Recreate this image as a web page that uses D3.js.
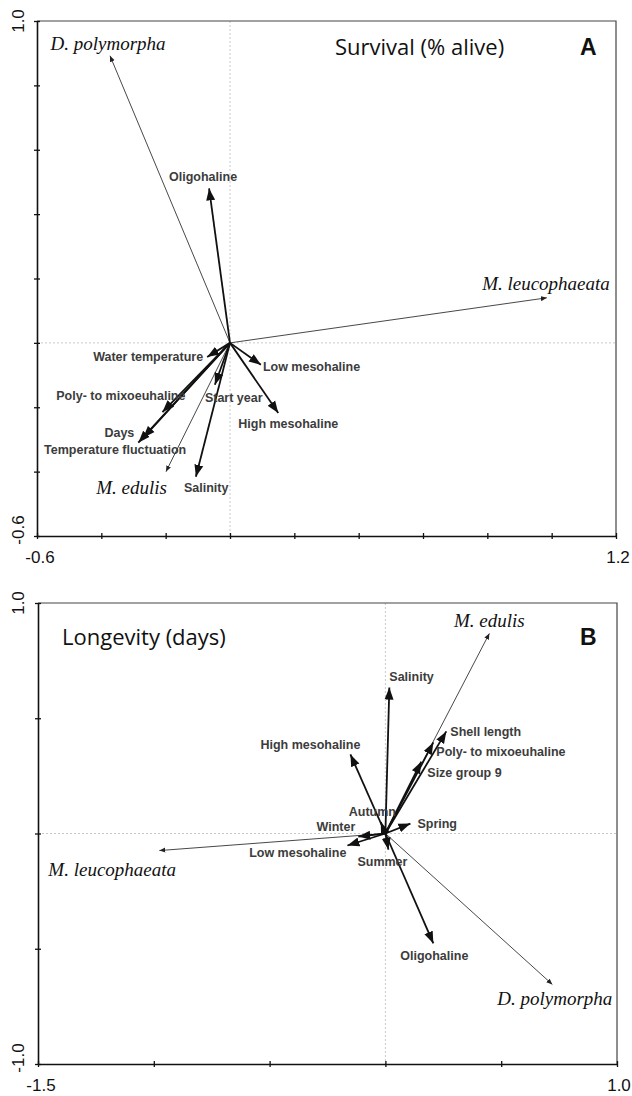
<!DOCTYPE html>
<html>
  <head>
    <style>
     body{ margin:0; background:#fff; }
     .env{ font-family:"Liberation Sans", Arial, sans-serif; font-weight:bold; font-size:12.5px; fill:#3c3c3c; }
     .sp{ font-family:"Liberation Serif", "Times New Roman", serif; font-style:italic; font-size:19px; fill:#111; }
     .ttl{ font-family:"Open Sans", Lato, sans-serif; font-size:22px; fill:#111; }
     .pnl{ font-family:"Liberation Sans", Arial, sans-serif; font-weight:bold; font-size:23px; fill:#111; }
     .tk{ font-family:"Liberation Sans", Arial, sans-serif; font-size:17px; fill:#111; }
    </style>
    <script src="https://d3js.org/d3.v7.min.js"></script>
    <title>Survival and longevity ordination</title>
  </head>
  <body>
    <script>
    // ---- Panel A: Survival (% alive) ----
    const aSpecies = ["D. polymorpha", "M. leucophaeata", "M. edulis"];
    const aSpeciesX = [-0.373, 0.985, -0.199];
    const aSpeciesY = [0.892, 0.140, -0.400];
    const aVars = ["Oligohaline", "Water temperature", "Low mesohaline", "High mesohaline",
                   "Start year", "Poly- to mixoeuhaline", "Days", "Temperature fluctuation", "Salinity"];
    const aVarsX = [-0.065, -0.071, 0.096, 0.150, -0.047, -0.210, -0.285, -0.270, -0.106];
    const aVarsY = [0.480, -0.044, -0.068, -0.218, -0.130, -0.215, -0.310, -0.295, -0.416];
    const aXDomain = [-0.6, 1.2], aYDomain = [-0.6, 1.0];
    const aXLabels = ["-0.6", "1.2"], aYLabels = ["-0.6", "1.0"];

    // ---- Panel B: Longevity (days) ----
    const bSpecies = ["M. edulis", "D. polymorpha", "M. leucophaeata"];
    const bSpeciesX = [0.449, 0.721, -0.976];
    const bSpeciesY = [0.868, -0.655, -0.074];
    const bVars = ["Salinity", "High mesohaline", "Shell length", "Poly- to mixoeuhaline", "Size group 9",
                   "Spring", "Autumn", "Winter", "Low mesohaline", "Summer", "Oligohaline"];
    const bVarsX = [0.017, -0.151, 0.263, 0.207, 0.155, 0.108, -0.020, -0.117, -0.164, 0.013, 0.207];
    const bVarsY = [0.633, 0.343, 0.443, 0.395, 0.312, 0.043, 0.050, -0.013, -0.052, -0.070, -0.477];
    const bXDomain = [-1.5, 1.0], bYDomain = [-1.0, 1.0];
    const bXLabels = ["-1.5", "1.0"], bYLabels = ["-1.0", "1.0"];

    // label placement (pixel offsets from arrow tip, anchor)
    const aSpLab = [[-2,-6,"middle"],[63,-8,"end"],[1,22,"end"]];
    const aVarLab = [[-6,-7,"middle"],[-4,4,"end"],[2,6,"start"],[-40,15,"start"],[-10,17,"start"],
                     [23,-12,"end"],[-4,-6,"end"],[-28,16,"middle"],[-12,15,"start"]];
    const bSpLab = [[0,-6,"middle"],[60,21,"end"],[-111,25,"start"]];
    const bVarLab = [[0,-7,"start"],[10,-5,"end"],[4,5,"start"],[3,14,"start"],[6,15,"start"],
                     [7,4,"start"],[-32,-6,"start"],[-3,-5,"end"],[-1,12,"end"],[-31,16,"start"],[1,17,"middle"]];

    const svg = d3.select("body").append("svg")
        .attr("width", 632).attr("height", 1096);

    const defs = svg.append("defs");
    defs.append("marker").attr("id", "big")
        .attr("markerUnits", "userSpaceOnUse")
        .attr("viewBox", "0 -5 12 10").attr("refX", 12).attr("refY", 0)
        .attr("markerWidth", 12).attr("markerHeight", 10).attr("orient", "auto")
      .append("path").attr("d", "M0,-4.5L12,0L0,4.5Z").attr("fill", "#111");
    defs.append("marker").attr("id", "small")
        .attr("markerUnits", "userSpaceOnUse")
        .attr("viewBox", "0 -3 6 6").attr("refX", 6).attr("refY", 0)
        .attr("markerWidth", 6).attr("markerHeight", 6).attr("orient", "auto")
      .append("path").attr("d", "M0,-2.5L6,0L0,2.5Z").attr("fill", "#222");

    function panel(o) {
      const x = d3.scaleLinear().domain(o.xd).range([o.left, o.right]);
      const y = d3.scaleLinear().domain(o.yd).range([o.bottom, o.top]);
      const g = svg.append("g");

      // zero lines
      g.append("line").attr("x1", x(0)).attr("x2", x(0)).attr("y1", o.top).attr("y2", o.bottom)
        .attr("stroke", "#bbb").attr("stroke-dasharray", "2,2").attr("stroke-width", 0.8);
      g.append("line").attr("x1", o.left).attr("x2", o.right).attr("y1", y(0)).attr("y2", y(0))
        .attr("stroke", "#bbb").attr("stroke-dasharray", "2,2").attr("stroke-width", 0.8);

      // frame
      g.append("path").attr("d", `M${o.left},${o.top}H${o.right}V${o.bottom}`)
        .attr("fill", "none").attr("stroke", "#444").attr("stroke-width", 1.2);

      const xAxis = d3.axisBottom(x).tickValues(d3.range(o.xd[0], o.xd[1] + 1e-9, o.step))
        .tickFormat("").tickSizeInner(3).tickSizeOuter(0);
      const yAxis = d3.axisLeft(y).tickValues(d3.range(o.yd[0], o.yd[1] + 1e-9, o.step))
        .tickFormat("").tickSizeInner(3).tickSizeOuter(0);
      const gx = g.append("g").attr("transform", `translate(0,${o.bottom})`).call(xAxis);
      const gy = g.append("g").attr("transform", `translate(${o.left},0)`).call(yAxis);
      [gx, gy].forEach(a => {
        a.select(".domain").attr("stroke", "#111").attr("stroke-width", 1.6);
        a.selectAll(".tick line").attr("stroke", "#111").attr("stroke-width", 1.3);
      });
      gx.selectAll(".tick line").attr("y1", -3);
      gy.selectAll(".tick line").attr("x1", 3);

      // end labels
      g.append("text").attr("class", "tk").attr("text-anchor", "middle")
        .attr("x", x(o.xd[0]) + 3).attr("y", o.bottom + 27).text(o.xl[0]);
      g.append("text").attr("class", "tk").attr("text-anchor", "middle")
        .attr("x", x(o.xd[1]) + 2).attr("y", o.bottom + 27).text(o.xl[1]);
      g.append("text").attr("class", "tk").attr("text-anchor", "middle")
        .attr("transform", `translate(24,${y(o.yd[0]) - 6}) rotate(-90)`).text(o.yl[0]);
      g.append("text").attr("class", "tk").attr("text-anchor", "middle")
        .attr("transform", `translate(24,${y(o.yd[1])}) rotate(-90)`).text(o.yl[1]);

      // species arrows
      g.selectAll(".spa").data(o.sp).enter().append("line")
        .attr("x1", x(0)).attr("y1", y(0))
        .attr("x2", (d, i) => x(o.spx[i])).attr("y2", (d, i) => y(o.spy[i]))
        .attr("stroke", "#333").attr("stroke-width", 0.9).attr("marker-end", "url(#small)");
      // environmental arrows
      g.selectAll(".va").data(o.vars).enter().append("line")
        .attr("x1", x(0)).attr("y1", y(0))
        .attr("x2", (d, i) => x(o.vx[i])).attr("y2", (d, i) => y(o.vy[i]))
        .attr("stroke", "#111").attr("stroke-width", 1.8).attr("marker-end", "url(#big)");

      g.selectAll(".vl").data(o.vars).enter().append("text").attr("class", "env")
        .attr("x", (d, i) => x(o.vx[i]) + o.vlab[i][0])
        .attr("y", (d, i) => y(o.vy[i]) + o.vlab[i][1])
        .attr("text-anchor", (d, i) => o.vlab[i][2])
        .text(d => d);
      g.selectAll(".sl").data(o.sp).enter().append("text").attr("class", "sp")
        .attr("x", (d, i) => x(o.spx[i]) + o.slab[i][0])
        .attr("y", (d, i) => y(o.spy[i]) + o.slab[i][1])
        .attr("text-anchor", (d, i) => o.slab[i][2])
        .text(d => d);

      g.append("text").attr("class", "ttl").attr("x", o.tx).attr("y", o.ty).text(o.title);
      g.append("text").attr("class", "pnl").attr("x", 580).attr("y", o.ty).text(o.letter);
    }

    panel({xd: aXDomain, yd: aYDomain, xl: aXLabels, yl: aYLabels, step: 0.2,
           left: 37, right: 616, top: 21, bottom: 536,
           sp: aSpecies, spx: aSpeciesX, spy: aSpeciesY, slab: aSpLab,
           vars: aVars, vx: aVarsX, vy: aVarsY, vlab: aVarLab,
           title: "Survival (% alive)", letter: "A", tx: 335, ty: 55});
    panel({xd: bXDomain, yd: bYDomain, xl: bXLabels, yl: bYLabels, step: 0.5,
           left: 38, right: 617, top: 603, bottom: 1064,
           sp: bSpecies, spx: bSpeciesX, spy: bSpeciesY, slab: bSpLab,
           vars: bVars, vx: bVarsX, vy: bVarsY, vlab: bVarLab,
           title: "Longevity (days)", letter: "B", tx: 62, ty: 645});
    </script>
  </body>
</html>
